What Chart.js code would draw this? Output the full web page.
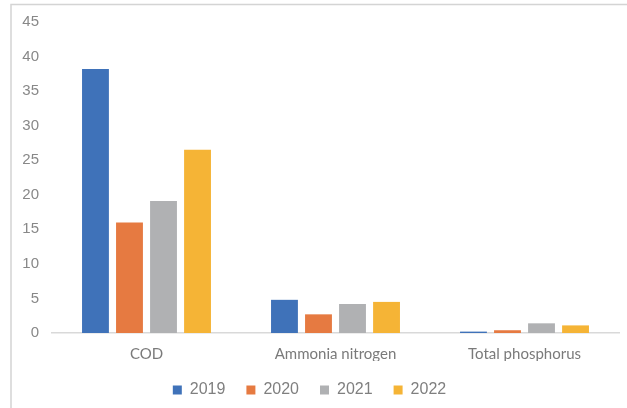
<!DOCTYPE html>
<html>
<head>
<meta charset="utf-8">
<script src="https://cdn.jsdelivr.net/npm/chart.js@4/dist/chart.umd.min.js"></script>
<style>
html,body{margin:0;padding:0;background:#fff;}
#wrap{position:relative;width:627px;height:408px;}
canvas{display:block;}
</style>
</head>
<body>
<div id="wrap"><canvas id="c" width="627" height="408"></canvas></div>
<script>
const categories = ["COD", "Ammonia nitrogen", "Total phosphorus"];
const years = ["2019", "2020", "2021", "2022"];
const values2019 = [38.2, 4.8, 0.2];
const values2020 = [16.0, 2.7, 0.4];
const values2021 = [19.1, 4.2, 1.4];
const values2022 = [26.5, 4.5, 1.1];
const yTicks = [0, 5, 10, 15, 20, 25, 30, 35, 40, 45];

const colors = ["#3F72B9", "#E67A41", "#B0B1B3", "#F5B436"];
const series = [values2019, values2020, values2021, values2022];

const framePlugin = {
  id: 'frame',
  beforeDraw(chart) {
    const ctx = chart.ctx;
    ctx.save();
    ctx.fillStyle = '#fff';
    ctx.fillRect(0, 0, chart.width, chart.height);
    ctx.strokeStyle = '#d4d4d4';
    ctx.lineWidth = 1.5;
    ctx.beginPath();
    ctx.moveTo(11, chart.height);
    ctx.lineTo(11, 4.5);
    ctx.lineTo(chart.width, 4.5);
    ctx.stroke();
    ctx.restore();
  }
};

new Chart(document.getElementById('c'), {
  type: 'bar',
  data: {
    labels: categories,
    datasets: years.map((y, i) => ({
      label: y,
      data: series[i],
      backgroundColor: colors[i],
      borderWidth: 0,
      categoryPercentage: 0.72,
      barPercentage: 0.79
    }))
  },
  options: {
    responsive: false,
    animation: false,
    devicePixelRatio: 1,
    layout: { padding: { left: 0, right: 8, top: 22, bottom: 0 } },
    plugins: {
      tooltip: { enabled: false },
      legend: {
        position: 'bottom',
        labels: {
          boxWidth: 9,
          boxHeight: 9,
          padding: 21,
          color: '#7f7f7f',
          font: { family: 'Liberation Sans', size: 16 }
        }
      }
    },
    scales: {
      x: {
        grid: { display: false, drawTicks: false },
        border: { display: true, color: '#d9d9d9', width: 1.5 },
        afterFit(scale) { scale.height = 28; },
        ticks: {
          color: '#7a7a7a',
          padding: 12,
          font: { family: 'Lato', size: 15 }
        }
      },
      y: {
        min: 0,
        max: 45,
        afterBuildTicks(scale) { scale.ticks = yTicks.map(v => ({ value: v })); },
        afterFit(scale) { scale.width = 52; },
        grid: { display: false, drawTicks: false },
        border: { display: false },
        ticks: {
          color: '#888888',
          padding: 13,
          font: { family: 'Liberation Sans', size: 15 }
        }
      }
    }
  },
  plugins: [framePlugin]
});
</script>
</body>
</html>
